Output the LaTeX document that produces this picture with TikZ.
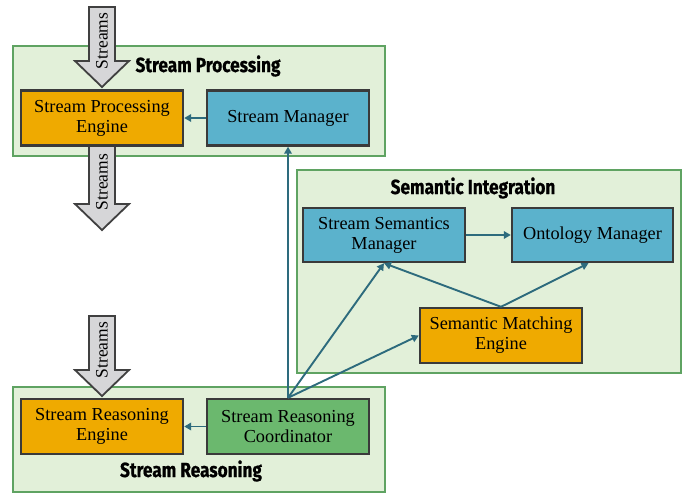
\documentclass[tikz,border=0pt]{standalone}
\usepackage{fontspec}
\setmainfont{Liberation Serif}
\newfontfamily\titlefont[FakeStretch=0.84, BoldFeatures={FakeBold=0.8}]{Fira Sans}
\usetikzlibrary{arrows.meta}
\definecolor{contfill}{HTML}{E2F0D9}
\definecolor{contdraw}{HTML}{5FA362}
\definecolor{orangebox}{HTML}{EFAA00}
\definecolor{bluebox}{HTML}{5BB2CC}
\definecolor{greenbox}{HTML}{6BB86E}
\definecolor{boxdraw}{HTML}{3A3A3A}
\definecolor{conn}{HTML}{2D6B7D}
\definecolor{arrfill}{HTML}{D6D6D8}
\definecolor{arrdraw}{HTML}{404040}
\tikzset{
  container/.style={fill=contfill, draw=contdraw, line width=2.2pt},
  comp/.style={draw=boxdraw, line width=2.4pt, minimum width=162pt, minimum height=55pt,
    align=center, inner sep=0pt, font=\fontsize{18.3}{20}\selectfont},
  eng/.style={comp, fill=orangebox},
  mgr/.style={comp, fill=bluebox},
  coord/.style={comp, fill=greenbox},
  title/.style={font=\titlefont\bfseries\fontsize{20.5}{22}\selectfont, inner sep=0pt},
  link/.style={draw=conn, line width=1.9pt, -{Triangle[length=7pt,width=7.5pt]}},
  flow/.style={fill=arrfill, draw=arrdraw, line width=1.8pt, line join=miter},
  flowtext/.style={rotate=90, font=\fontsize{17.5}{19}\selectfont, inner sep=0pt}
}
\begin{document}
\begin{tikzpicture}[x=1pt,y=-1pt]
\useasboundingbox (0,0) rectangle (686,493);
% containers
\draw[container] (13,46) rectangle (385,156);
\draw[container] (297,170) rectangle (681,373);
\draw[container] (13,387) rectangle (385,492);
% titles
\node[title] (tsp) at (208,66) {Stream Processing};
\node[title] (tsi) at (473,188) {Semantic Integration};
\node[title] (tsr) at (191,471) {Stream Reasoning};
% stream arrows
\draw[flow] (89,7) -- (115,7) -- (115,61) -- (129,61) -- (102,87) -- (75,61) -- (89,61) -- cycle;
\node[flowtext] (s1) at (102,41) {Streams};
\draw[flow] (89,146) -- (115,146) -- (115,204) -- (129,204) -- (102,230) -- (75,204) -- (89,204) -- cycle;
\node[flowtext] (s2) at (102,182) {Streams};
\draw[flow] (89,316) -- (115,316) -- (115,370) -- (129,370) -- (102,396) -- (75,370) -- (89,370) -- cycle;
\node[flowtext] (s3) at (102,350) {Streams};
% components
\node[eng] (spe) at (102,118) {Stream Processing\\Engine};
\node[mgr] (sm) at (288,118) {Stream Manager};
\node[mgr, minimum height=54pt] (ssm) at (384,235) {Stream Semantics\\Manager};
\node[mgr, minimum height=54pt, minimum width=161pt] (om) at (592.5,235) {Ontology Manager};
\node[eng] (sme) at (501,335.5) {Semantic Matching\\Engine};
\node[eng] (sre) at (102,426.5) {Stream Reasoning\\Engine};
\node[coord] (src) at (288,426.5) {Stream Reasoning\\Coordinator};
% connectors
\draw[link] (sm.west) -- (spe.east);
\draw[link] (src.west) -- (sre.east);
\draw[link] (ssm.east) -- (om.west);
\coordinate (smetop) at (sme.north);
\draw[link] (smetop) -- (ssm.south);
\draw[link] (smetop) -- ([xshift=-4pt]om.south);
\coordinate (srctop) at (src.north);
\draw[link] (srctop) -- (sm.south);
\draw[link] (srctop) -- (ssm.south);
\draw[link] (srctop) -- (sme.west);
\end{tikzpicture}
\end{document}
